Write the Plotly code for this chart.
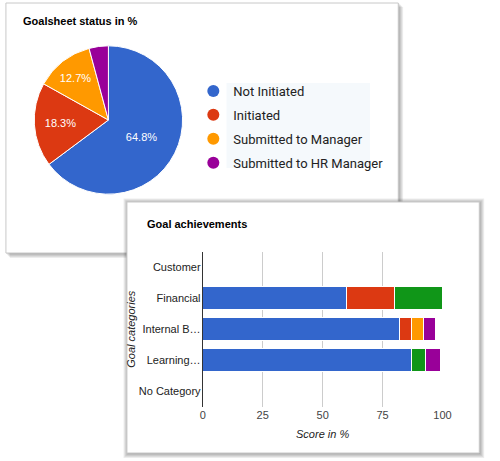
import plotly.graph_objects as go

W, H = 500, 461

# ---- data ----
pie_labels = ["Not Initiated", "Initiated", "Submitted to Manager", "Submitted to HR Manager"]
pie_values = [64.8, 18.3, 12.7, 4.2]
pie_colors = ["#3366cc", "#dc3912", "#ff9900", "#990099"]

categories = ["Customer", "Financial", "Internal B…", "Learning…", "No Category"]
bar_series_names = ["Series 1", "Series 2", "Series 3", "Series 4", "Series 5"]
bar_series_values = [
    [None, 60, 82, 87, None],
    [None, 20, 5, None, None],
    [None, None, 5, None, None],
    [None, 20, None, 6, None],
    [None, None, 5, 6, None],
]
bar_colors = ["#3366cc", "#dc3912", "#ff9900", "#109618", "#990099"]
x_ticks = [0, 25, 50, 75, 100]


def fx(px):
    return px / W


def fy(py):
    return 1 - py / H


fig = go.Figure()

# pie
fig.add_trace(go.Pie(
    labels=pie_labels, values=pie_values, sort=False, direction="clockwise",
    rotation=0, marker=dict(colors=pie_colors, line=dict(color="white", width=1)),
    texttemplate=["%{percent:.1%}", "%{percent:.1%}", "%{percent:.1%}", ""],
    textposition="inside", insidetextorientation="horizontal",
    textfont=dict(family="Liberation Sans, Arial", size=11, color="white"),
    showlegend=False, hoverinfo="label+percent",
    domain=dict(x=[fx(108 - 76), fx(108 + 76)], y=[fy(120 + 76), fy(120 - 76)]),
))

# bars
for name, vals, col in zip(bar_series_names, bar_series_values, bar_colors):
    fig.add_trace(go.Bar(
        y=categories, x=vals, orientation="h", name=name,
        marker=dict(color=col, line=dict(color="white", width=1)),
        showlegend=False,
    ))

# legend entries (circles) for pie
for name, col in zip(pie_labels, pie_colors):
    fig.add_trace(go.Scatter(
        x=[None], y=[None], mode="markers", name=name, legendgroup=name,
        marker=dict(color=col, size=12, symbol="circle"),
        showlegend=True, xaxis="x", yaxis="y",
    ))

shapes = []


def card(x0, y0, x1, y1, sides_all=False):
    out = []
    for i in range(1, 6):
        if sides_all:
            sx0, sy0, sx1, sy1 = x0 - i + 1.5, y0 - i + 1.5, x1 + i, y1 + i
        else:
            sx0, sy0, sx1, sy1 = x0 + i - 1, y0 + i - 1, x1 + i, y1 + i
        out.append(dict(type="rect", xref="paper", yref="paper",
                        x0=fx(sx0), x1=fx(sx1), y0=fy(sy1), y1=fy(sy0),
                        fillcolor="rgba(0,0,0,0.07)", line=dict(width=0), layer="below"))
    out.append(dict(type="rect", xref="paper", yref="paper",
                    x0=fx(x0), x1=fx(x1), y0=fy(y1), y1=fy(y0),
                    fillcolor="white", line=dict(color="#c8c8c8", width=1), layer="below"))
    return out


shapes += card(3, 3, 405, 253)
# light legend highlight background
shapes.append(dict(type="rect", xref="paper", yref="paper",
                   x0=fx(229), x1=fx(376), y0=fy(168), y1=fy(83),
                   fillcolor="#f5f9fc", line=dict(width=0), layer="below"))
shapes += card(127, 202, 488, 453, sides_all=True)

fig.update_layout(
    width=W, height=H, margin=dict(l=0, r=0, t=0, b=0),
    paper_bgcolor="white", plot_bgcolor="rgba(0,0,0,0)",
    barmode="stack", bargap=0.25,
    shapes=shapes,
    font=dict(family="Liberation Sans, Arial", size=11, color="#222222"),
    legend=dict(x=fx(195), y=fy(76), xanchor="left", yanchor="top",
                bgcolor="rgba(0,0,0,0)", traceorder="grouped",
                font=dict(family="Roboto", size=13, color="#222222"),
                itemsizing="trace", tracegroupgap=4),
    xaxis=dict(domain=[fx(204.7), fx(450.3)], range=[0, 100], tickvals=x_ticks,
               showgrid=True, gridcolor="#cccccc", zeroline=False, showline=False,
               tickfont=dict(size=11, color="#444444"), ticks="", fixedrange=True,
               title=dict(text="Score in %", standoff=10,
                          font=dict(size=11, color="#222222", style="italic"))),
    yaxis=dict(domain=[fy(406.7), fy(251.7)], type="category", categoryorder="array",
               categoryarray=categories, autorange="reversed",
               showline=True, linecolor="#333333", linewidth=1, showgrid=False,
               zeroline=False, ticks="", tickfont=dict(size=11, color="#222222"),
               ticklabelstandoff=-1, fixedrange=True,
               title=dict(text="Goal categories", standoff=0,
                          font=dict(size=11, color="#222222", style="italic"))),
    annotations=[
        dict(text="<b>Goalsheet status in %</b>", xref="paper", yref="paper",
             x=fx(18), y=fy(21), xanchor="left", yanchor="middle", showarrow=False,
             font=dict(family="Liberation Sans, Arial", size=11, color="#000000")),
        dict(text="<b>Goal achievements</b>", xref="paper", yref="paper",
             x=fx(145), y=fy(224), xanchor="left", yanchor="middle", showarrow=False,
             font=dict(family="Liberation Sans, Arial", size=11, color="#000000")),
    ],
)

fig.write_html(
    "out.html",
    config={"displayModeBar": False},
    post_script=("document.body.style.margin='0';"
                 "document.body.style.overflow='hidden';"
                 "document.documentElement.style.overflow='hidden';"),
)
